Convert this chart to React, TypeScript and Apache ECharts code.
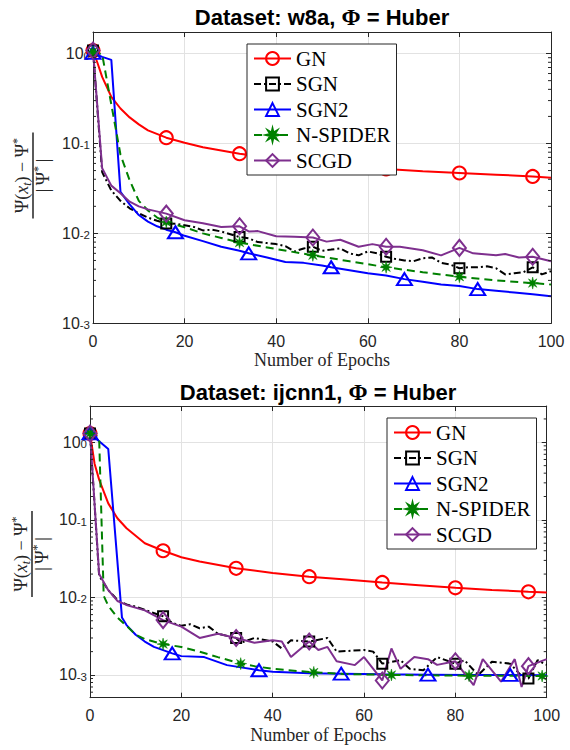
import React, { useEffect, useRef } from 'react';
import * as echarts from 'echarts';

// ---------- data ----------
const methods = ['GN', 'SGN', 'SGN2', 'N-SPIDER', 'SCGD'];
const xTicks = [0, 20, 40, 60, 80, 100];

// Dataset: w8a
const w8aGNEpochs = [0, 1, 2, 4, 6, 8, 10, 12, 16, 20, 24, 32, 40, 48, 56, 64, 72, 80, 88, 96, 100];
const w8aGNValues = [1.08, 0.78, 0.55, 0.33, 0.245, 0.195, 0.163, 0.14, 0.116, 0.102, 0.091, 0.077, 0.068, 0.061, 0.056, 0.052, 0.049, 0.047, 0.045, 0.043, 0.0416];
const w8aGNMarks = [0, 16, 32, 48, 64, 80, 96];

const w8aSGNEpochs = [0, 2, 4, 6, 8, 10, 12, 14, 16, 18, 20, 22, 24, 26, 28, 30, 32, 34, 36, 38, 40, 42, 44, 46, 48, 50, 52, 54, 56, 58, 60, 62, 64, 66, 68, 70, 72, 74, 76, 78, 80, 82, 84, 86, 88, 90, 92, 94, 96, 98, 100];
const w8aSGNValues = [1.08, 0.048, 0.030, 0.023, 0.019, 0.0167, 0.015, 0.0138, 0.0129, 0.0128, 0.0123, 0.0118, 0.0108, 0.011, 0.0105, 0.0098, 0.0091, 0.0088, 0.008, 0.0078, 0.0076, 0.0072, 0.0063, 0.0068, 0.0071, 0.0064, 0.0066, 0.0068, 0.0060, 0.0057, 0.0063, 0.0060, 0.0055, 0.0052, 0.0050, 0.0049, 0.0053, 0.0054, 0.0047, 0.0045, 0.0041, 0.0042, 0.0042, 0.0043, 0.0041, 0.0035, 0.0036, 0.0037, 0.0042, 0.0035, 0.0038];
const w8aSGNMarks = [0, 16, 32, 48, 64, 80, 96];

const w8aSGN2Epochs = [0, 2, 4, 6, 8, 10, 12, 14, 16, 18, 20, 24, 28, 32, 34, 38, 42, 46, 50, 52, 56, 60, 64, 68, 72, 76, 80, 84, 88, 92, 96, 100];
const w8aSGN2Values = [1.02, 0.92, 0.85, 0.029, 0.021, 0.016, 0.0135, 0.012, 0.011, 0.0103, 0.0094, 0.0082, 0.0071, 0.0064, 0.006, 0.0054, 0.0048, 0.0047, 0.0044, 0.0042, 0.0039, 0.0036, 0.0034, 0.0031, 0.0029, 0.0027, 0.0026, 0.0024, 0.0023, 0.0022, 0.0021, 0.0020];
const w8aSGN2Marks = [0, 18, 34, 52, 68, 84];

const w8aSpiderEpochs = [0, 2, 6, 8, 10, 12, 14, 16, 20, 24, 28, 32, 40, 48, 56, 64, 72, 80, 88, 96, 100];
const w8aSpiderValues = [1.05, 0.98, 0.075, 0.039, 0.023, 0.018, 0.015, 0.0134, 0.0117, 0.010, 0.0089, 0.0079, 0.0067, 0.0057, 0.0049, 0.0042, 0.0037, 0.0033, 0.0030, 0.0028, 0.0027];
const w8aSpiderMarks = [0, 16, 32, 48, 64, 80, 96];

const w8aSCGDEpochs = [0, 2, 4, 6, 8, 10, 12, 16, 20, 24, 28, 32, 34, 36, 40, 44, 48, 51, 54, 58, 61, 64, 67, 72, 76, 80, 83, 88, 90, 93, 96, 100];
const w8aSCGDValues = [1.08, 0.053, 0.034, 0.028, 0.0225, 0.02, 0.0185, 0.0166, 0.014, 0.013, 0.0118, 0.012, 0.0105, 0.0106, 0.0093, 0.0092, 0.009, 0.0081, 0.0085, 0.0071, 0.0076, 0.0071, 0.0071, 0.0065, 0.0057, 0.0069, 0.006, 0.0057, 0.0059, 0.0054, 0.0055, 0.0049];
const w8aSCGDMarks = [0, 16, 32, 48, 64, 80, 96];

// Dataset: ijcnn1
const ijGNEpochs = [0, 1, 2, 4, 6, 8, 12, 16, 20, 24, 32, 40, 48, 56, 64, 72, 80, 88, 96, 100];
const ijGNValues = [1.3, 0.53, 0.33, 0.163, 0.105, 0.078, 0.05, 0.040, 0.033, 0.029, 0.0237, 0.0207, 0.0185, 0.017, 0.0156, 0.0144, 0.0133, 0.0125, 0.0118, 0.0116];
const ijGNMarks = [0, 16, 32, 48, 64, 80, 96];

const ijSGNEpochs = [0, 2, 4, 6, 8, 10, 12, 16, 18, 20, 22, 24, 26, 28, 32, 33, 36, 40, 42, 44, 48, 52, 54, 60, 62, 64, 68, 70, 73, 76, 80, 82, 85, 88, 92, 95, 96, 98, 100];
const ijSGNValues = [1.3, 0.019, 0.0124, 0.0093, 0.0081, 0.0076, 0.0069, 0.0057, 0.0047, 0.0043, 0.0045, 0.0040, 0.0042, 0.0034, 0.0030, 0.0026, 0.0030, 0.0027, 0.0022, 0.0028, 0.0027, 0.0030, 0.0020, 0.0021, 0.0020, 0.0014, 0.00155, 0.0012, 0.00115, 0.0017, 0.0014, 0.00155, 0.0010, 0.00148, 0.0014, 0.0009, 0.0009, 0.00155, 0.00135];
const ijSGNMarks = [0, 16, 32, 48, 64, 80, 96];

const ijSGN2Epochs = [0, 4, 7, 8, 10, 12, 14, 18, 20, 25, 30, 37, 40, 48, 55, 64, 74, 84, 92, 100];
const ijSGN2Values = [1.3, 0.82, 0.0055, 0.0044, 0.0033, 0.0027, 0.0023, 0.0019, 0.00175, 0.0017, 0.00134, 0.00115, 0.0011, 0.00105, 0.00104, 0.00102, 0.00101, 0.001, 0.001, 0.00099];
const ijSGN2Marks = [0, 18, 37, 55, 74, 92];

const ijSpiderEpochs = [0, 1, 2, 3, 4, 6, 8, 10, 12, 16, 20, 24, 28, 33, 36, 40, 49, 56, 66, 74, 83, 90, 99, 100];
const ijSpiderValues = [1.3, 1.25, 1.15, 0.0105, 0.0078, 0.0055, 0.0043, 0.0033, 0.0029, 0.0025, 0.0023, 0.0020, 0.0017, 0.0014, 0.0013, 0.0012, 0.00108, 0.00103, 0.001, 0.00099, 0.00098, 0.00098, 0.00097, 0.00097];
const ijSpiderMarks = [0, 16, 33, 49, 66, 83, 99];

const ijSCGDEpochs = [0, 2, 4, 6, 8, 12, 16, 20, 24, 28, 32, 36, 40, 42, 44, 48, 50, 52, 54, 58, 60, 64, 66, 68, 71, 74, 76, 80, 82, 84, 86, 90, 93, 94.5, 96, 100];
const ijSCGDValues = [1.3, 0.020, 0.0124, 0.009, 0.008, 0.0068, 0.0051, 0.0042, 0.003, 0.0034, 0.003, 0.0026, 0.0028, 0.0027, 0.0017, 0.0027, 0.0021, 0.0023, 0.0015, 0.00134, 0.0017, 0.00085, 0.0022, 0.0012, 0.0017, 0.0016, 0.00135, 0.0015, 0.00105, 0.00074, 0.0016, 0.00082, 0.0016, 0.0007, 0.0013, 0.0016];
const ijSCGDMarks = [0, 16, 32, 48, 64, 80, 96];

// ---------- styles ----------
const AXIS = '#262626';
const GRIDC = '#e2e2e2';
const SANS = 'Liberation Sans, Arial, Helvetica, sans-serif';
const SERIF = 'Liberation Serif, Times New Roman, serif';
const STAR = 'path://M0,-10L1.53,-3.7L7.07,-7.07L3.7,-1.53L10,0L3.7,1.53L7.07,7.07L1.53,3.7L0,10L-1.53,3.7L-7.07,7.07L-3.7,1.53L-10,0L-3.7,-1.53L-7.07,-7.07L-1.53,-3.7Z';

const seriesStyle: Record<string, any> = {
  GN: { color: '#ff0000', symbol: 'circle', size: 13, dash: 'solid', filled: false },
  SGN: { color: '#000000', symbol: 'rect', size: 10, dash: [7, 3, 2, 3], filled: false },
  SGN2: { color: '#0000ff', symbol: 'triangle', size: [15, 12], dash: 'solid', filled: false },
  'N-SPIDER': { color: '#008000', symbol: STAR, size: 12, dash: [8, 5], filled: true },
  SCGD: { color: '#7e2f8e', symbol: 'diamond', size: [13, 16], dash: 'solid', filled: false },
};

function makeSeries(name: string, epochs: number[], values: number[], marks: number[], axisIndex: number) {
  const st = seriesStyle[name];
  return {
    type: 'line',
    name,
    xAxisIndex: axisIndex,
    yAxisIndex: axisIndex,
    clip: false,
    showSymbol: true,
    showAllSymbol: true,
    symbol: st.symbol,
    symbolSize: st.size,
    data: epochs.map((e, i) => (marks.indexOf(e) >= 0 ? [e, values[i]] : { value: [e, values[i]], symbol: 'none' })),
    lineStyle: { color: st.color, width: 2, type: st.dash },
    itemStyle: st.filled
      ? { color: st.color, borderColor: st.color, borderWidth: 0.5 }
      : { color: 'rgba(255,255,255,0)', borderColor: st.color, borderWidth: 2 },
    emphasis: { disabled: true },
    z: 3,
  };
}

function minorTickValues(minExp: number, maxExp: number, lo: number, hi: number) {
  const out: number[] = [];
  for (let e = minExp; e <= maxExp; e++) {
    for (let m = 2; m <= 9; m++) {
      const v = m * Math.pow(10, e);
      if (v > lo * 1.001 && v < hi * 0.999) out.push(v);
    }
  }
  return out;
}

function yLabelFormatter(v: number) {
  const e = Math.log10(v);
  const r = Math.round(e);
  if (Math.abs(e - r) > 1e-6) return '';
  return `{b|10}{s|${r}}`;
}

function xAxes(gridIndex: number) {
  const base = { type: 'value', gridIndex, min: xTicks[0], max: xTicks[xTicks.length - 1], interval: xTicks[1] - xTicks[0] };
  return [
    {
      ...base,
      position: 'bottom',
      axisLine: { show: true, onZero: false, lineStyle: { color: AXIS, width: 1 } },
      axisTick: { show: true, inside: true, length: 5, lineStyle: { color: AXIS } },
      axisLabel: { show: true, margin: 10, fontSize: 16, color: AXIS, fontFamily: SANS },
      splitLine: { show: true, lineStyle: { color: GRIDC, width: 1 } },
      name: 'Number of Epochs',
      nameLocation: 'middle',
      nameGap: 28,
      nameTextStyle: { fontFamily: SERIF, fontSize: 18, color: AXIS },
    },
    {
      ...base,
      position: 'top',
      axisLine: { show: true, onZero: false, lineStyle: { color: AXIS, width: 1 } },
      axisTick: { show: true, inside: true, length: 5, lineStyle: { color: AXIS } },
      axisLabel: { show: false },
      splitLine: { show: false },
    },
  ];
}

function yAxes(gridIndex: number, min: number, max: number) {
  const base = { type: 'log', logBase: 10, gridIndex, min, max };
  return [
    {
      ...base,
      position: 'left',
      axisLine: { show: true, onZero: false, lineStyle: { color: AXIS, width: 1 } },
      axisTick: { show: true, inside: true, length: 5, lineStyle: { color: AXIS } },
      axisLabel: {
        show: true,
        margin: 3,
        formatter: yLabelFormatter,
        color: AXIS,
        rich: {
          b: { fontSize: 16, fontFamily: SANS, color: AXIS, lineHeight: 16, verticalAlign: 'bottom' },
          s: { fontSize: 11.5, fontFamily: SANS, color: AXIS, lineHeight: 11, verticalAlign: 'top', padding: [4, 0, 9, 0] },
        },
      },
      splitLine: { show: true, lineStyle: { color: GRIDC, width: 1 } },
    },
    {
      ...base,
      position: 'right',
      axisLine: { show: true, onZero: false, lineStyle: { color: AXIS, width: 1 } },
      axisTick: { show: true, inside: true, length: 5, lineStyle: { color: AXIS } },
      axisLabel: { show: false },
      splitLine: { show: false },
    },
  ];
}

function minorTickSeries(axisIndex: number, vals: number[]) {
  return {
    type: 'custom',
    xAxisIndex: axisIndex,
    yAxisIndex: axisIndex,
    silent: true,
    clip: false,
    z: 10,
    data: vals.map((v) => [0, v]),
    encode: { x: 0, y: 1 },
    renderItem: (_params: any, api: any) => {
      const v = api.value(1);
      const l = api.coord([xTicks[0], v]);
      const r = api.coord([xTicks[xTicks.length - 1], v]);
      return {
        type: 'group',
        children: [
          { type: 'line', shape: { x1: l[0], y1: l[1], x2: l[0] + 3, y2: l[1] }, style: { stroke: AXIS, lineWidth: 1 } },
          { type: 'line', shape: { x1: r[0], y1: r[1], x2: r[0] - 3, y2: r[1] }, style: { stroke: AXIS, lineWidth: 1 } },
        ],
      };
    },
  };
}

function legendAt(left: number, top: number) {
  return {
    data: methods,
    orient: 'vertical',
    left,
    top,
    itemWidth: 37,
    itemHeight: 16,
    itemGap: 4.5,
    padding: [4, 6, 4, 6],
    borderColor: AXIS,
    borderWidth: 1,
    borderRadius: 0,
    backgroundColor: '#ffffff',
    selectedMode: false,
    textStyle: { fontFamily: SERIF, fontSize: 21, color: '#000', lineHeight: 20 },
    z: 20,
  };
}

function yFraction(x: number, y: number) {
  const rich = {
    n: { fontFamily: SERIF, fontSize: 18, fill: '#262626', lineHeight: 22 },
    i: { fontFamily: SERIF, fontStyle: 'italic', fontSize: 18, fill: '#262626', lineHeight: 22 },
    sb: { fontFamily: SERIF, fontStyle: 'italic', fontSize: 12, fill: '#262626', lineHeight: 12, verticalAlign: 'bottom' },
    sp: { fontFamily: SERIF, fontSize: 12, fill: '#262626', lineHeight: 12, verticalAlign: 'top' },
  };
  return {
    type: 'group',
    x,
    y,
    rotation: Math.PI / 2,
    children: [
      {
        type: 'text',
        x: 0,
        y: -11,
        style: { text: '{n|Ψ(}{i|x}{sb|t}{n|) − Ψ}{sp|*}', rich, align: 'center', verticalAlign: 'middle', textAlign: 'center', textVerticalAlign: 'middle' },
      },
      { type: 'line', shape: { x1: -43, y1: 0, x2: 43, y2: 0 }, style: { stroke: '#000', lineWidth: 1.3 } },
      {
        type: 'text',
        x: 0,
        y: 10,
        style: { text: '{n||\u2009Ψ}{sp|*}{n|\u2009|}', rich, align: 'center', verticalAlign: 'middle', textAlign: 'center', textVerticalAlign: 'middle' },
      },
    ],
  };
}

function titleText(x: number, y: number, name: string) {
  return {
    type: 'text',
    x,
    y,
    style: {
      text: `Dataset: ${name}, {m|Φ} = Huber`,
      fontFamily: SANS,
      fontWeight: 'bold',
      fontSize: 22,
      fill: '#000',
      align: 'center',
      verticalAlign: 'top',
      textAlign: 'center',
      textVerticalAlign: 'top',
      rich: { m: { fontFamily: SERIF, fontWeight: 'bold', fontSize: 23, fill: '#000' } },
    },
  };
}

const topMin = 1e-3;
const topMax = Math.pow(10, 0.24);
const botMin = Math.pow(10, -3.293);
const botMax = Math.pow(10, 0.468);

export default function App() {
  const ref = useRef<HTMLDivElement>(null);
  useEffect(() => {
    if (!ref.current) return;
    const chart = echarts.init(ref.current, undefined, { renderer: 'svg' });
    const option: any = {
      animation: false,
      backgroundColor: '#ffffff',
      grid: [
        { left: 93, top: 32, width: 458, height: 291.3, containLabel: false },
        { left: 90, top: 406, width: 456.7, height: 291.7, containLabel: false },
      ],
      xAxis: [...xAxes(0), ...xAxes(1)],
      yAxis: [...yAxes(0, topMin, topMax), ...yAxes(1, botMin, botMax)],
      legend: [legendAt(247, 44), legendAt(387, 418)],
      graphic: [
        titleText(322, 6, 'w8a'),
        titleText(318, 381, 'ijcnn1'),
        yFraction(33, 175.5),
        yFraction(32, 554),
      ],
      series: [
        makeSeries('GN', w8aGNEpochs, w8aGNValues, w8aGNMarks, 0),
        makeSeries('SGN', w8aSGNEpochs, w8aSGNValues, w8aSGNMarks, 0),
        makeSeries('SGN2', w8aSGN2Epochs, w8aSGN2Values, w8aSGN2Marks, 0),
        makeSeries('N-SPIDER', w8aSpiderEpochs, w8aSpiderValues, w8aSpiderMarks, 0),
        makeSeries('SCGD', w8aSCGDEpochs, w8aSCGDValues, w8aSCGDMarks, 0),
        makeSeries('GN', ijGNEpochs, ijGNValues, ijGNMarks, 2),
        makeSeries('SGN', ijSGNEpochs, ijSGNValues, ijSGNMarks, 2),
        makeSeries('SGN2', ijSGN2Epochs, ijSGN2Values, ijSGN2Marks, 2),
        makeSeries('N-SPIDER', ijSpiderEpochs, ijSpiderValues, ijSpiderMarks, 2),
        makeSeries('SCGD', ijSCGDEpochs, ijSCGDValues, ijSCGDMarks, 2),
        minorTickSeries(0, minorTickValues(-3, 0, topMin, topMax)),
        minorTickSeries(2, minorTickValues(-4, 0, botMin, botMax)),
      ],
    };
    chart.setOption(option);
    return () => chart.dispose();
  }, []);
  return <div ref={ref} style={{ position: 'absolute', left: 0, top: 0, width: 570, height: 750 }} />;
}
